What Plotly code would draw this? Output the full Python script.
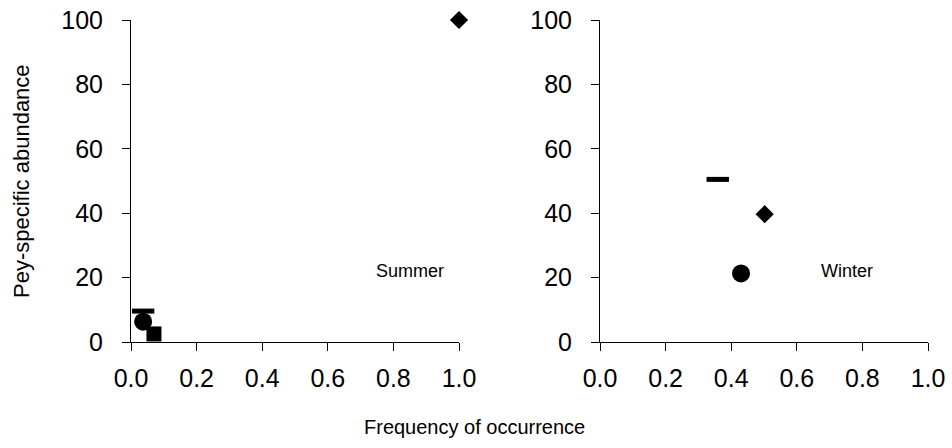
import plotly.graph_objects as go

# Summer data (frequency of occurrence, prey-specific abundance)
summer_symbols = ["diamond", "line-ew", "circle", "square"]
summer_x = [1.0, 0.037, 0.037, 0.070]
summer_y = [100, 9.6, 6.3, 2.5]

# Winter data
winter_symbols = ["line-ew", "diamond", "circle"]
winter_x = [0.359, 0.502, 0.430]
winter_y = [50.5, 39.7, 21.3]

x_ticks = [0.0, 0.2, 0.4, 0.6, 0.8, 1.0]
x_ticklabels = ["0.0", "0.2", "0.4", "0.6", "0.8", "1.0"]
y_ticks = [0, 20, 40, 60, 80, 100]

sizes = {"diamond": 14, "line-ew": 16, "circle": 18, "square": 15}

W, H = 952, 448
fig = go.Figure()

def add_points(xs, ys, syms, xa, ya):
    for x, y, s in zip(xs, ys, syms):
        marker = dict(symbol=s, size=sizes[s], color="black")
        if s == "line-ew":
            marker["line"] = dict(color="black", width=5)
        else:
            marker["line"] = dict(width=0)
        fig.add_trace(go.Scatter(x=[x], y=[y], mode="markers", marker=marker,
                                 xaxis=xa, yaxis=ya, showlegend=False,
                                 cliponaxis=False))

add_points(summer_x, summer_y, summer_symbols, "x", "y")
add_points(winter_x, winter_y, winter_symbols, "x2", "y2")

font = dict(family="Liberation Sans, Arial, sans-serif", color="black")
ydom = [106 / H, 428 / H]
axis_common = dict(showgrid=False, zeroline=False, showline=True, linecolor="black",
                   linewidth=1, ticks="outside", ticklen=8, tickcolor="black",
                   tickfont=dict(size=25, **font))
xaxis_common = dict(axis_common, range=[0, 1], tickvals=x_ticks, ticktext=x_ticklabels,
                    ticklabelstandoff=6)
yaxis_common = dict(axis_common, domain=ydom, range=[0, 100], tickvals=y_ticks,
                    ticklabelstandoff=14)

fig.update_layout(
    width=W, height=H,
    margin=dict(l=0, r=0, t=0, b=0, autoexpand=False),
    plot_bgcolor="white", paper_bgcolor="white", font=font,
    xaxis=dict(xaxis_common, domain=[131 / W, 459 / W], anchor="y"),
    yaxis=dict(yaxis_common, anchor="x"),
    xaxis2=dict(xaxis_common, domain=[600 / W, 928 / W], anchor="y2"),
    yaxis2=dict(yaxis_common, anchor="x2"),
    annotations=[
        dict(text="Summer", x=0.85, y=22, xref="x", yref="y", showarrow=False,
             font=dict(size=18, **font)),
        dict(text="Winter", x=0.753, y=22, xref="x2", yref="y2", showarrow=False,
             font=dict(size=18, **font)),
        dict(text="Frequency of occurrence", x=474 / W, y=(H - 427) / H, xref="paper",
             yref="paper", xanchor="center", yanchor="middle", showarrow=False,
             font=dict(size=20, **font)),
        dict(text="Pey-specific abundance", x=22 / W, y=(H - 181) / H, xref="paper",
             yref="paper", xanchor="center", yanchor="middle", showarrow=False,
             textangle=-90, font=dict(size=22, **font)),
    ],
)

fig.write_html("out.html")
